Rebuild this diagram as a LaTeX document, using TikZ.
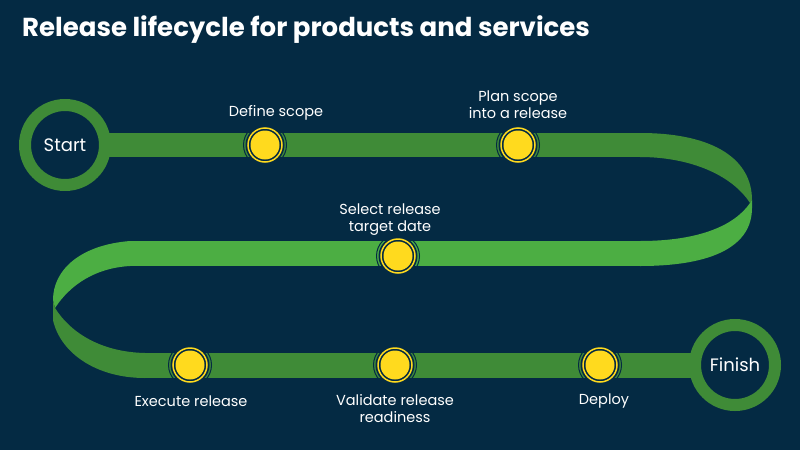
\documentclass[tikz,border=0pt]{standalone}
\usepackage{fontspec}
\setmainfont{Poppins}
\begin{document}
\begin{tikzpicture}[x=1pt,y=-1pt,
  lbl/.style={text=white,font=\fontsize{14.5}{17}\selectfont,align=center,inner sep=0},
  ring/.style={draw=dgreen,line width=12pt,fill=bg,circle,minimum size=80pt,inner sep=0,text=white,font=\fontsize{18}{20}\selectfont}]
\definecolor{bg}{HTML}{042A43}
\definecolor{dgreen}{HTML}{3F8B37}
\definecolor{lgreen}{HTML}{4CAE43}
\definecolor{yel}{HTML}{FFDA1E}
\fill[bg] (0,0) rectangle (800,450);
\useasboundingbox (0,0) rectangle (800,450);
\node[anchor=west,text=white,font=\bfseries\fontsize{26}{30}\selectfont,inner sep=0] (title) at (22,30) {Release lifecycle for products and services};
% bands
\fill[dgreen] (65,133) rectangle (640,157);
\fill[lgreen] (130,241) rectangle (640,266);
\fill[dgreen] (145,353) rectangle (735,378);
% right turn
\fill[dgreen] (640,133) .. controls (715,133) and (752,160) .. (752,200) -- (750,203) .. controls (732,175) and (690,157) .. (640,157) -- cycle;
\fill[lgreen] (752,200) -- (752,208) .. controls (752,245) and (715,266) .. (640,266) -- (640,241) .. controls (700,241) and (735,225) .. (750,203) -- cycle;
% left turn
\fill[lgreen] (130,241) .. controls (80,245) and (53,270) .. (53,300) -- (55,308) .. controls (70,285) and (95,268) .. (130,266) -- cycle;
\fill[dgreen] (53,300) -- (53,320) .. controls (60,352) and (95,378) .. (145,378) -- (145,353) .. controls (100,352) and (70,332) .. (55,308) -- cycle;
% circles
\node[ring] (start) at (65,145) {Start};
\node[ring] (finish) at (735,365) {Finish};
% markers
\foreach \n/\x/\y in {m1/265/145,m2/518/145,m3/398/256,m4/190/365,m5/395/365,m6/600/365}{
  \draw[bg,line width=1pt] (\x,\y) circle (21.5);
  \fill[bg] (\x,\y) circle (19.5);
  \draw[yel,line width=1.5pt] (\x,\y) circle (17);
  \node[circle,fill=yel,minimum size=29pt,inner sep=0] (\n) at (\x,\y) {};
}
\node[lbl] (l1) at (276,113) {Define scope};
\node[lbl] (l2) at (518,105) {Plan scope\\into a release};
\node[lbl] (l3) at (390,220) {Select release\\target date};
\node[lbl] (l4) at (191,401) {Execute release};
\node[lbl] (l5) at (395,409) {Validate release\\readiness};
\node[lbl] (l6) at (604,401) {Deploy};
\end{tikzpicture}
\end{document}
